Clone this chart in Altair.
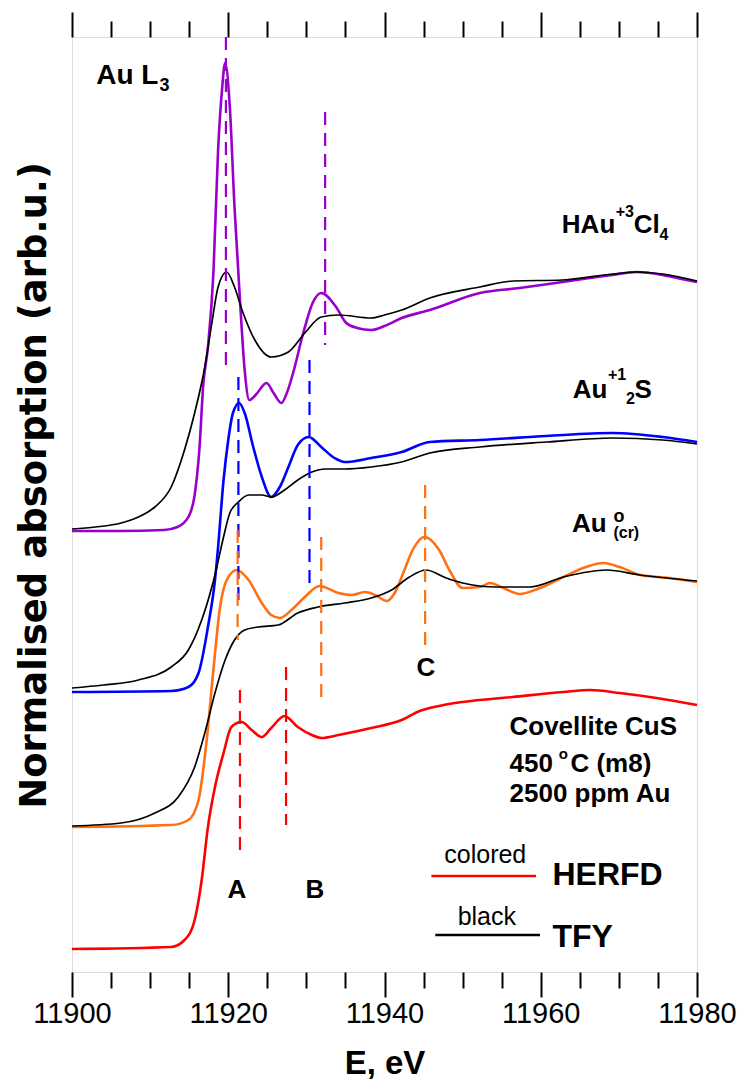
import altair as alt
import pandas as pd

FONT = "Liberation Sans"

# ---------------- spectra (E in eV, normalised absorption incl. vertical offset) -------------
hau_herfd_E = [11900, 11906, 11911.8, 11913.5, 11914.9, 11915.7, 11916.3, 11916.8, 11917.4, 11918.1,
               11918.7, 11919.2, 11919.6, 11920.2, 11920.8, 11921.5, 11922.1, 11922.7, 11923.5, 11924.9,
               11925.8, 11926.8, 11927.5, 11928.3, 11929.6, 11930.8, 11931.9, 11933.8, 11935.1, 11936.5,
               11938.3, 11940, 11942.2, 11945.8, 11952.2, 11957.3, 11962.8, 11969.2, 11972.3, 11975.6,
               11978, 11980]
hau_herfd_y = [4.41, 4.41, 4.42, 4.45, 4.55, 4.77, 5.22, 5.87, 6.25, 6.99,
               8.22, 8.82, 9.09, 8.65, 7.65, 6.72, 6.02, 5.72, 5.77, 5.89,
               5.79, 5.69, 5.79, 5.99, 6.39, 6.69, 6.79, 6.65, 6.49, 6.44,
               6.42, 6.46, 6.54, 6.62, 6.79, 6.84, 6.90, 6.97, 7.00, 6.97,
               6.93, 6.90]

hau_tfy_E = [11900, 11903, 11906.3, 11908.5, 11910.6, 11912.7, 11914.4, 11915.7, 11917, 11917.9,
             11918.7, 11919.8, 11920.8, 11921.9, 11923.4, 11925.5, 11927.7, 11929.8, 11931.9, 11934.1,
             11938.3, 11940, 11942.2, 11945.8, 11952.2, 11956.5, 11962.8, 11969.2, 11972.3, 11975.6,
             11980]
hau_tfy_y = [4.43, 4.45, 4.49, 4.55, 4.65, 4.85, 5.22, 5.59, 6.05, 6.49,
             6.85, 7.00, 6.85, 6.59, 6.32, 6.15, 6.20, 6.39, 6.55, 6.57,
             6.54, 6.57, 6.62, 6.74, 6.85, 6.91, 6.92, 6.98, 7.00, 6.98,
             6.91]

au2s_herfd_E = [11900, 11912.7, 11914.9, 11916.2, 11917.4, 11918.3, 11918.7, 11919.4, 11920, 11920.6,
                11921.4, 11922.1, 11923.2, 11924.3, 11925.5, 11926.6, 11927.7, 11928.9, 11930.3, 11931.9,
                11933.6, 11934.9, 11938.3, 11942.2, 11945.8, 11952.2, 11960.7, 11969.2, 11975.6, 11980]
au2s_herfd_y = [2.80, 2.81, 2.85, 2.99, 3.45, 3.92, 4.25, 4.92, 5.32, 5.59,
                5.69, 5.59, 5.25, 4.95, 4.75, 4.85, 5.05, 5.27, 5.35, 5.25,
                5.14, 5.10, 5.14, 5.20, 5.30, 5.32, 5.36, 5.39, 5.35, 5.30]

au2s_tfy_E = [11900, 11904, 11908.5, 11912.7, 11914.9, 11916.6, 11917.9, 11918.3, 11919.4, 11920.2,
              11921.3, 11922.6, 11924.3, 11925.5, 11927.2, 11928.9, 11930.7, 11932.4, 11934.9, 11938.3,
              11942.2, 11945.8, 11952.2, 11960.7, 11969.2, 11975.6, 11980]
au2s_tfy_y = [2.84, 2.87, 2.92, 3.05, 3.22, 3.52, 3.85, 3.97, 4.35, 4.59,
              4.70, 4.77, 4.77, 4.75, 4.82, 4.92, 5.00, 5.03, 5.03, 5.05,
              5.10, 5.19, 5.25, 5.30, 5.34, 5.32, 5.28]

aufoil_herfd_E = [11900, 11912.7, 11914.9, 11916.2, 11917.2, 11918.1, 11918.9, 11919.8, 11921.1, 11922.6,
                  11924.3, 11925.5, 11926.6, 11928.1, 11929.8, 11931.7, 11934.1, 11935.8, 11937.5, 11938.8,
                  11940.3, 11941.3, 11942.4, 11943.6, 11945.1, 11947, 11948.3, 11950, 11952.2, 11953.5,
                  11955.2, 11957.3, 11959.9, 11962.9, 11965.8, 11968, 11970.1, 11972.7, 11976.5, 11980]
aufoil_herfd_y = [1.45, 1.47, 1.52, 1.72, 2.29, 3.02, 3.62, 3.92, 4.02, 3.92,
                  3.69, 3.57, 3.54, 3.62, 3.75, 3.86, 3.79, 3.77, 3.80, 3.77,
                  3.71, 3.79, 3.99, 4.22, 4.35, 4.22, 4.02, 3.84, 3.85, 3.89,
                  3.84, 3.78, 3.84, 3.95, 4.05, 4.09, 4.05, 3.97, 3.94, 3.90]

aufoil_tfy_E = [11900, 11906.3, 11910.6, 11913.6, 11915.7, 11917, 11918.3, 11919.6, 11920.8, 11922.1,
                11923.8, 11926.4, 11928.9, 11931.5, 11934.9, 11938.3, 11940.9, 11943.2, 11945.3, 11947.9,
                11950, 11954.3, 11958.6, 11962.9, 11968.4, 11972.7, 11980]
aufoil_tfy_y = [1.46, 1.49, 1.59, 1.75, 2.05, 2.39, 2.79, 3.12, 3.32, 3.42,
                3.45, 3.47, 3.59, 3.65, 3.69, 3.74, 3.82, 3.95, 4.02, 3.94,
                3.89, 3.85, 3.85, 3.95, 4.02, 3.97, 3.91]

cus_herfd_E = [11900, 11912.7, 11914.4, 11915.7, 11916.6, 11917.4, 11918.3, 11919.4, 11920.4, 11921.7,
               11923, 11924.3, 11925.5, 11927.2, 11928.9, 11930.7, 11931.9, 11934.1, 11938.3, 11942.2,
               11944.5, 11947, 11950, 11956.4, 11962.9, 11966.3, 11970.1, 11974.8, 11980]
cus_herfd_y = [0.23, 0.25, 0.32, 0.52, 0.92, 1.45, 1.85, 2.19, 2.45, 2.50,
               2.42, 2.35, 2.44, 2.56, 2.45, 2.37, 2.34, 2.37, 2.44, 2.52,
               2.61, 2.66, 2.70, 2.75, 2.80, 2.82, 2.79, 2.74, 2.67]

herfd_names = ["HAuCl4 HERFD", "Au2S HERFD", "Au foil HERFD", "CuS HERFD"]
herfd_colors = ["#9900CC", "#0000FF", "#FF7014", "#FF0000"]

# ---------------- dashed feature markers ----------------
dash_series = ["HAuCl4 HERFD", "HAuCl4 HERFD", "Au2S HERFD", "Au2S HERFD",
               "Au foil HERFD", "Au foil HERFD", "Au foil HERFD", "CuS HERFD", "CuS HERFD"]
dash_E = [11919.7, 11932.4, 11921.3, 11930.4, 11921.2, 11931.9, 11945.2, 11921.5, 11927.4]
dash_top = [9.35, 8.60, 5.95, 6.12, 4.42, 4.35, 4.87, 2.82, 3.05]
dash_bottom = [6.02, 6.27, 3.72, 3.89, 3.32, 2.75, 3.25, 1.22, 1.47]

# ---------------- legend sample lines ----------------
leg_color = ["#FF0000", "#000000"]
leg_E1 = [11946.0, 11946.5]
leg_E2 = [11959.4, 11959.9]
leg_y = [0.96, 0.37]

# ---------------- annotations ----------------
bold_left_text = ["Au L", "3", "HAu", "+3", "Cl", "4", "Au", "+1", "2", "S",
                  "Au", "o", "(cr)", "Covellite CuS", "450", "o", "C (m8)", "2500 ppm Au",
                  "HERFD", "TFY"]
bold_left_E = [11903.1, 11911.2, 11962.7, 11969.6, 11971.9, 11975.2, 11964.1, 11968.6, 11970.9, 11972.0,
               11964.0, 11969.3, 11969.3, 11956.0, 11956.0, 11962.3, 11963.8, 11956.0,
               11961.5, 11961.5]
bold_left_y = [8.88, 8.81, 7.39, 7.55, 7.39, 7.32, 5.74, 5.92, 5.68, 5.74,
               4.40, 4.50, 4.34, 2.37, 2.00, 2.13, 2.00, 1.70,
               0.87, 0.25]
bold_left_size = [28, 18, 26, 16, 26, 16, 26, 16, 16, 26,
                  26, 18, 16, 26, 26, 15, 26, 26,
                  32, 32]

letter_text = ["A", "B", "C"]
letter_E = [11921.1, 11931.1, 11945.3]
letter_y = [0.74, 0.74, 2.96]

plain_text = ["colored", "black"]
plain_E = [11952.9, 11953.1]
plain_y = [1.09, 0.47]

# ---------------- build tables ----------------
herfd_curves = [
    ("HAuCl4 HERFD", hau_herfd_E, hau_herfd_y),
    ("Au2S HERFD", au2s_herfd_E, au2s_herfd_y),
    ("Au foil HERFD", aufoil_herfd_E, aufoil_herfd_y),
    ("CuS HERFD", cus_herfd_E, cus_herfd_y),
]
tfy_curves = [
    ("HAuCl4 TFY", hau_tfy_E, hau_tfy_y),
    ("Au2S TFY", au2s_tfy_E, au2s_tfy_y),
    ("Au foil TFY", aufoil_tfy_E, aufoil_tfy_y),
]


def to_frame(curves):
    frames = []
    for name, e, y in curves:
        f = pd.DataFrame({"E": e, "y": y})
        f["series"] = name
        frames.append(f)
    return pd.concat(frames, ignore_index=True)


herfd_df = to_frame(herfd_curves)
tfy_df = to_frame(tfy_curves)

dash_df = pd.DataFrame({"series": dash_series, "E": dash_E, "top": dash_top, "bottom": dash_bottom})
leg_df = pd.DataFrame({"col": leg_color, "E1": leg_E1, "E2": leg_E2, "y": leg_y})
bold_df = pd.DataFrame({"t": bold_left_text, "E": bold_left_E, "y": bold_left_y, "s": bold_left_size})
letter_df = pd.DataFrame({"t": letter_text, "E": letter_E, "y": letter_y})
plain_df = pd.DataFrame({"t": plain_text, "E": plain_E, "y": plain_y})

XDOM = [11900, 11980]
YDOM = [0, 9.35]
xs = alt.Scale(domain=XDOM, nice=False, zero=False)
ys = alt.Scale(domain=YDOM, nice=False, zero=False)
cscale = alt.Scale(domain=herfd_names, range=herfd_colors)

major = [11900, 11920, 11940, 11960, 11980]
minor = [v for v in range(11900, 11981, 5) if v % 20 != 0]

bottom_major = alt.Axis(orient="bottom", values=major, format="d", tickSize=25, tickWidth=2,
                        tickColor="black", labelFontSize=29, labelFont=FONT, labelColor="black",
                        labelPadding=2, labelFlush=False, labelOverlap=False, domain=False, grid=False,
                        title="E, eV", titleFont=FONT, titleFontSize=33, titleFontWeight="bold",
                        titleColor="black", titleY=101, titleBaseline="alphabetic")
bottom_minor = alt.Axis(orient="bottom", values=minor, tickSize=16, tickWidth=2, tickColor="black",
                        labels=False, domain=False, grid=False, title=None)
top_major = alt.Axis(orient="top", values=major, tickSize=25, tickWidth=2, tickColor="black",
                     labels=False, domain=False, grid=False, title=None)
top_minor = alt.Axis(orient="top", values=minor, tickSize=16, tickWidth=2, tickColor="black",
                     labels=False, domain=False, grid=False, title=None)
left_axis = alt.Axis(orient="left", labels=False, ticks=False, domain=False, grid=False,
                     title="Normalised absorption (arb.u.)", titleFont="DejaVu Sans", titleFontSize=37,
                     titleFontWeight="bold", titleColor="black", titleX=-27, titleY=448,
                     titleAngle=-90, titleAlign="center", titleBaseline="alphabetic")

herfd = alt.Chart(herfd_df).mark_line(interpolate="monotone", strokeWidth=2.6).encode(
    x=alt.X("E:Q", scale=xs, axis=bottom_major),
    y=alt.Y("y:Q", scale=ys, axis=left_axis),
    color=alt.Color("series:N", scale=cscale, legend=None),
    detail="series:N",
)

tfy = alt.Chart(tfy_df).mark_line(interpolate="monotone", strokeWidth=1.7, color="black").encode(
    x=alt.X("E:Q", scale=xs, axis=None),
    y=alt.Y("y:Q", scale=ys, axis=None),
    detail="series:N",
)

dashes = alt.Chart(dash_df).mark_rule(strokeDash=[13, 8], strokeWidth=2.2).encode(
    x=alt.X("E:Q", scale=xs, axis=bottom_minor),
    y=alt.Y("top:Q", scale=ys, axis=None),
    y2="bottom:Q",
    color=alt.Color("series:N", scale=cscale, legend=None),
)

legend_lines = alt.Chart(leg_df).mark_rule(strokeWidth=2.6).encode(
    x=alt.X("E1:Q", scale=xs, axis=top_major),
    x2="E2:Q",
    y=alt.Y("y:Q", scale=ys, axis=None),
    stroke=alt.Stroke("col:N", scale=None, legend=None),
)

bold_texts = alt.Chart(bold_df).mark_text(align="left", baseline="alphabetic", font=FONT,
                                          fontWeight="bold", color="black").encode(
    x=alt.X("E:Q", scale=xs, axis=top_minor),
    y=alt.Y("y:Q", scale=ys, axis=None),
    text="t:N",
    size=alt.Size("s:Q", scale=None, legend=None),
)

letters = alt.Chart(letter_df).mark_text(align="center", baseline="alphabetic", font=FONT,
                                         fontWeight="bold", fontSize=26, color="black").encode(
    x=alt.X("E:Q", scale=xs, axis=None),
    y=alt.Y("y:Q", scale=ys, axis=None),
    text="t:N",
)

plain = alt.Chart(plain_df).mark_text(align="center", baseline="alphabetic", font=FONT,
                                      fontSize=25, color="black").encode(
    x=alt.X("E:Q", scale=xs, axis=None),
    y=alt.Y("y:Q", scale=ys, axis=None),
    text="t:N",
)

chart = alt.layer(herfd, tfy, dashes, legend_lines, bold_texts, letters, plain).resolve_axis(
    x="independent", y="independent"
).properties(
    width=625, height=935,
    autosize=alt.AutoSizeParams(type="none"),
    padding={"left": 64, "top": 29, "right": 41, "bottom": 110},
).configure_view(stroke="black", strokeWidth=2).configure(background="white")

chart.save("out.html", embed_options={"renderer": "svg", "actions": False})
